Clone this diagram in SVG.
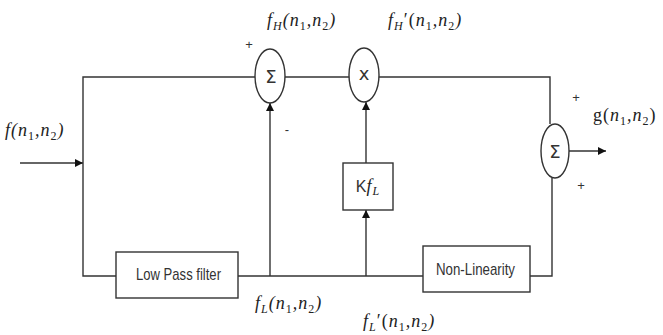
<svg xmlns="http://www.w3.org/2000/svg" width="663" height="335" viewBox="0 0 663 335">
<defs>
<marker id="arr" viewBox="0 0 10 10" refX="10" refY="5" markerWidth="8" markerHeight="8" markerUnits="userSpaceOnUse" orient="auto">
<path d="M0,0 L10,5 L0,10 z" fill="#111"/>
</marker>
<style>
.ln{fill:none;stroke:#333;stroke-width:1.4}
.nd{fill:#fff;stroke:#333;stroke-width:1.4}
.bx{font-family:"Liberation Sans",Arial,sans-serif;font-size:17px;fill:#333}
.sym{font-family:"DejaVu Sans","Liberation Sans",sans-serif;font-size:18px;fill:#333;text-anchor:middle}
.m{font-family:"Liberation Serif","Times New Roman",serif;font-size:18px;font-style:italic;fill:#222;letter-spacing:1px}
.s{font-size:12px}
.up{font-style:normal}
.sg{font-family:"Liberation Sans",sans-serif;font-size:13px;fill:#333;text-anchor:middle}
</style>
</defs>
<rect width="663" height="335" fill="#fff"/>
<g id="connectors">
<line class="ln" x1="20" y1="163" x2="83" y2="163" marker-end="url(#arr)"/>
<polyline class="ln" points="255,77 83,77 83,276 116,276"/>
<line class="ln" x1="285" y1="77" x2="349" y2="77"/>
<polyline class="ln" points="379,77 550,77 550,124"/>
<line class="ln" x1="238" y1="276" x2="423" y2="276"/>
<line class="ln" x1="270" y1="276" x2="270" y2="103" marker-end="url(#arr)"/>
<line class="ln" x1="366" y1="276" x2="366" y2="210" marker-end="url(#arr)"/>
<line class="ln" x1="366" y1="163" x2="366" y2="102" marker-end="url(#arr)"/>
<polyline class="ln" points="530,276 552,276 552,178"/>
<line class="ln" x1="569" y1="151" x2="606" y2="151" marker-end="url(#arr)"/>
</g>
<g id="sum1">
<ellipse class="nd" cx="270" cy="76" rx="15" ry="27"/>
<text class="sym" x="271" y="83">Σ</text>
</g>
<g id="mult">
<ellipse class="nd" cx="364" cy="75" rx="15" ry="27"/>
<text class="sym" x="364" y="80" font-size="14">x</text>
</g>
<g id="sum2">
<ellipse class="nd" cx="555" cy="151" rx="14" ry="27"/>
<text class="sym" x="555" y="158">Σ</text>
</g>
<g id="lpf">
<rect class="nd" x="116" y="252" width="122" height="46"/>
<text class="bx" x="136" y="280" textLength="85" lengthAdjust="spacingAndGlyphs">Low Pass filter</text>
</g>
<g id="kfl">
<rect class="nd" x="343" y="163" width="50" height="47"/>
<text x="368" y="192" text-anchor="middle"><tspan font-family="Liberation Sans,sans-serif" font-size="16" fill="#333">K</tspan><tspan class="m" font-size="18">f</tspan><tspan class="m s" dy="3">L</tspan></text>
</g>
<g id="nonlin">
<rect class="nd" x="423" y="246" width="107" height="46"/>
<text class="bx" x="436" y="275" textLength="79" lengthAdjust="spacingAndGlyphs">Non-Linearity</text>
</g>
<g id="labels">
<text class="m" x="5" y="136">f(n<tspan class="s up" dy="4">1</tspan><tspan dy="-4">,n</tspan><tspan class="s up" dy="4">2</tspan><tspan dy="-4">)</tspan></text>
<text class="m" x="267" y="26">f<tspan class="s" dy="4">H</tspan><tspan dy="-4">(n</tspan><tspan class="s up" dy="4">1</tspan><tspan dy="-4">,n</tspan><tspan class="s up" dy="4">2</tspan><tspan dy="-4">)</tspan></text>
<text class="m" x="388" y="26">f<tspan class="s" dy="4">H</tspan><tspan dy="-4" class="up">′(</tspan><tspan>n</tspan><tspan class="s up" dy="4">1</tspan><tspan dy="-4">,n</tspan><tspan class="s up" dy="4">2</tspan><tspan dy="-4">)</tspan></text>
<text class="m" x="593" y="121"><tspan class="up">g(</tspan>n<tspan class="s up" dy="4">1</tspan><tspan dy="-4">,n</tspan><tspan class="s up" dy="4">2</tspan><tspan dy="-4" class="up">)</tspan></text>
<text class="m" x="255" y="309">f<tspan class="s" dy="4">L</tspan><tspan dy="-4">(n</tspan><tspan class="s up" dy="4">1</tspan><tspan dy="-4">,n</tspan><tspan class="s up" dy="4">2</tspan><tspan dy="-4">)</tspan></text>
<text class="m" x="363" y="327">f<tspan class="s" dy="4">L</tspan><tspan dy="-4" class="up">′(</tspan><tspan>n</tspan><tspan class="s up" dy="4">1</tspan><tspan dy="-4">,n</tspan><tspan class="s up" dy="4">2</tspan><tspan dy="-4">)</tspan></text>
<text class="sg" x="249" y="49">+</text>
<text class="sg" x="287" y="134">-</text>
<text class="sg" x="576" y="102">+</text>
<text class="sg" x="581" y="190">+</text>
</g>
</svg>
